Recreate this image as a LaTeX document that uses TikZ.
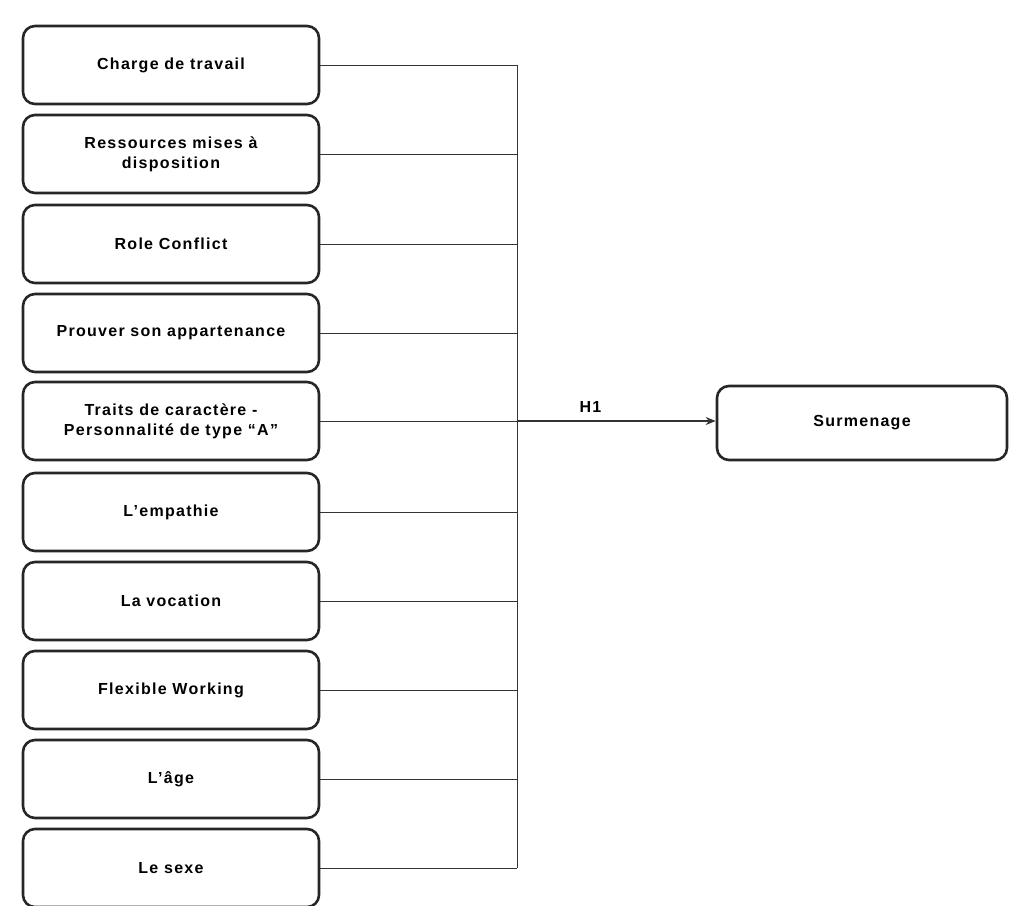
\documentclass[tikz,border=0pt]{standalone}
\usepackage{fontspec}
\setmainfont{Liberation Sans}
\usetikzlibrary{arrows.meta}
\newfontfamily\boxfont[LetterSpace=8]{Liberation Sans}
\begin{document}
\begin{tikzpicture}[x=1pt,y=-1pt,
  txt/.style={font=\boxfont\bfseries\fontsize{16}{20}\selectfont},
  factor/.style={txt, draw=black!85, line width=2.6pt, rounded corners=12pt, minimum width=296pt, minimum height=78pt, align=center, fill=white, inner sep=2pt},
  link/.style={draw=black!80, line width=0.9pt}]
\useasboundingbox (0,0) rectangle (1009,905);
\node[factor] (f1) at (171,65) {Charge de travail};
\node[factor] (f2) at (171,154) {Ressources mises à\\disposition};
\node[factor] (f3) at (171,244) {Role Conflict};
\node[factor] (f4) at (171,333) {Prouver son appartenance};
\node[factor] (f5) at (171,421) {Traits de caractère -\\Personnalité de type “A”};
\node[factor] (f6) at (171,512) {L’empathie};
\node[factor] (f7) at (171,601) {La vocation};
\node[factor] (f8) at (171,690) {Flexible Working};
\node[factor] (f9) at (171,779) {L’âge};
\node[factor] (f10) at (171,868) {Le sexe};
\node[factor, minimum width=290pt, minimum height=74pt] (s) at (862,423) {Surmenage};
\coordinate (bus1) at (517,65);
\coordinate (bus10) at (517,868);
\coordinate (busm) at (517,421);
\draw[link] (bus1) -- (bus10);
\foreach \i in {1,...,10} {
  \draw[link] (f\i.east) -- (f\i.east -| bus1);
}
\draw[link, line width=1.5pt, -{Stealth[length=10pt,width=8pt]}] (busm) -- (s.west |- busm) node[txt, pos=0.37, above=4pt] (h1) {H1};
\end{tikzpicture}
\end{document}
